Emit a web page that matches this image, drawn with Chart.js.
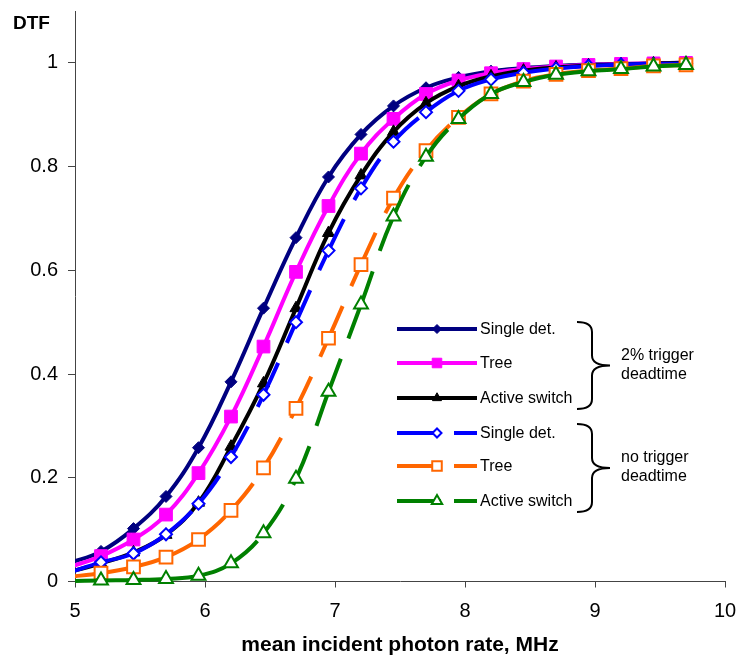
<!DOCTYPE html>
<html>
<head>
<meta charset="utf-8">
<script src="https://cdn.jsdelivr.net/npm/chart.js@4.4.0/dist/chart.umd.min.js"></script>
<style>
html, body { margin: 0; padding: 0; background: #fff; }
canvas { display: block; }
</style>
</head>
<body>
<canvas id="dtfChart" width="736" height="663"></canvas>
<script>
// photon rate (MHz); first point sits just left of the axis so the curves start at the edge
const rate = [4.95, 5.2, 5.45, 5.7, 5.95, 6.2, 6.45, 6.7, 6.95, 7.2, 7.45, 7.7, 7.95, 8.2, 8.45, 8.7, 8.95, 9.2, 9.45, 9.7];

// 2% trigger deadtime
const singleTrig = [0.035, 0.058, 0.102, 0.164, 0.258, 0.385, 0.527, 0.663, 0.780, 0.862, 0.917, 0.952, 0.972, 0.984, 0.990, 0.994, 0.997, 0.998, 0.999, 1.0];
const treeTrig   = [0.027, 0.049, 0.081, 0.129, 0.209, 0.318, 0.453, 0.597, 0.724, 0.825, 0.892, 0.940, 0.966, 0.980, 0.988, 0.993, 0.996, 0.998, 0.999, 1.0];
const switchTrig = [0.018, 0.035, 0.056, 0.090, 0.152, 0.260, 0.382, 0.527, 0.672, 0.783, 0.867, 0.922, 0.955, 0.974, 0.985, 0.991, 0.995, 0.997, 0.999, 1.0];

// no trigger deadtime
const singleNo = [0.017, 0.037, 0.054, 0.091, 0.150, 0.240, 0.360, 0.500, 0.638, 0.758, 0.848, 0.905, 0.946, 0.968, 0.981, 0.989, 0.994, 0.997, 0.998, 0.999];
const treeNo   = [0.009, 0.016, 0.028, 0.047, 0.081, 0.137, 0.219, 0.334, 0.469, 0.611, 0.739, 0.831, 0.895, 0.940, 0.965, 0.978, 0.985, 0.989, 0.994, 0.996];
const switchNo = [0.0005, 0.002, 0.003, 0.005, 0.011, 0.035, 0.093, 0.198, 0.366, 0.534, 0.704, 0.819, 0.892, 0.940, 0.963, 0.977, 0.984, 0.988, 0.993, 0.996];

const seriesLabels = ['Single det.', 'Tree', 'Active switch', 'Single det.', 'Tree', 'Active switch'];
const groupLabels = [['2% trigger', 'deadtime'], ['no trigger', 'deadtime']];
const yTicks = [0, 0.2, 0.4, 0.6, 0.8, 1];

Chart.defaults.font.family = 'Arial, "Liberation Sans", sans-serif';
Chart.defaults.color = '#000';

function makeSet(i, values, color, shape, radius, filled, dashed) {
    const set = {
        label: seriesLabels[i],
        data: values.map((v, k) => ({ x: rate[k], y: v })),
        borderColor: color,
        borderWidth: 4,
        borderDash: dashed ? [35, 22] : [],
        tension: 0.4,
        pointStyle: shape,
        pointRadius: values.map((v, k) => k === 0 ? 0 : radius),
        pointBackgroundColor: filled ? color : '#fff',
        pointBorderColor: color,
        pointBorderWidth: filled ? 1 : 2,
        order: 6 - i,
        clip: { left: 0, top: false, right: false, bottom: false },
        dashed: dashed
    };
    if (dashed) {
        // restart the dash pattern at every data point, as the original does
        set.segment = { borderDashOffset: c => (c.p0DataIndex % 2 ? 0.001 : 0) };
    }
    return set;
}

const datasets = [
    makeSet(0, singleTrig, '#000080', 'rectRot', 6, true, false),
    makeSet(1, treeTrig, '#ff00ff', 'rect', 9, true, false),
    makeSet(2, switchTrig, '#000000', 'triangle', 7, true, false),
    makeSet(3, singleNo, '#0000ff', 'rectRot', 6, false, true),
    makeSet(4, treeNo, '#ff6600', 'rect', 9, false, true),
    makeSet(5, switchNo, '#008000', 'triangle', 8, false, true)
];

// legend rows, brackets and the DTF label
const extrasPlugin = {
    id: 'extras',
    afterDraw(chart) {
        const ctx = chart.ctx;
        ctx.save();
        ctx.fillStyle = '#000';
        ctx.font = 'bold 19px Arial, "Liberation Sans", sans-serif';
        ctx.textAlign = 'left';
        ctx.textBaseline = 'alphabetic';
        ctx.fillText('DTF', 13, 29);

        const rowY = [329, 363, 398, 433, 466, 501];
        const x0 = 397, x1 = 477, xm = 437;
        datasets.forEach((ds, i) => {
            const y = rowY[i];
            ctx.save();
            ctx.strokeStyle = ds.borderColor;
            ctx.lineWidth = 4;
            ctx.setLineDash(ds.dashed ? [44, 13] : []);
            ctx.beginPath();
            ctx.moveTo(x0, y);
            ctx.lineTo(x1, y);
            ctx.stroke();
            ctx.restore();
            ctx.save();
            ctx.fillStyle = ds.pointBackgroundColor;
            ctx.strokeStyle = ds.pointBorderColor;
            ctx.lineWidth = ds.pointBorderWidth;
            Chart.helpers.drawPoint(ctx, {
                pointStyle: ds.pointStyle,
                radius: ds.pointRadius[1] * 0.75,
                borderWidth: ds.pointBorderWidth,
                rotation: 0
            }, xm, y);
            ctx.restore();
            ctx.fillStyle = '#000';
            ctx.font = '16px Arial, "Liberation Sans", sans-serif';
            ctx.textBaseline = 'middle';
            ctx.fillText(ds.label, 480, y + 1);
        });

        const braces = [[322, 409], [424, 512]];
        braces.forEach((b, j) => {
            const top = b[0], bot = b[1], mid = (top + bot) / 2;
            const xa = 577, xb = 592, xt = 610, r = 10;
            ctx.strokeStyle = '#000';
            ctx.lineWidth = 2;
            ctx.beginPath();
            ctx.moveTo(xa, top);
            ctx.quadraticCurveTo(xb, top, xb, top + r);
            ctx.lineTo(xb, mid - r);
            ctx.quadraticCurveTo(xb, mid, xt, mid);
            ctx.quadraticCurveTo(xb, mid, xb, mid + r);
            ctx.lineTo(xb, bot - r);
            ctx.quadraticCurveTo(xb, bot, xa, bot);
            ctx.stroke();
            ctx.fillStyle = '#000';
            ctx.font = '16px Arial, "Liberation Sans", sans-serif';
            ctx.textBaseline = 'middle';
            ctx.fillText(groupLabels[j][0], 621, mid - 10);
            ctx.fillText(groupLabels[j][1], 621, mid + 9);
        });
        ctx.restore();
    }
};

const axisColor = '#444';

new Chart(document.getElementById('dtfChart').getContext('2d'), {
    type: 'line',
    data: { datasets: datasets },
    options: {
        responsive: false,
        animation: false,
        events: [],
        layout: { padding: { top: 8, right: 11, left: 0, bottom: 0 } },
        plugins: { legend: { display: false }, tooltip: { enabled: false } },
        scales: {
            x: {
                type: 'linear',
                min: 5,
                max: 10,
                ticks: { stepSize: 1, font: { size: 20 }, color: '#000', padding: 12, maxRotation: 0 },
                grid: { drawOnChartArea: false, drawTicks: true, tickLength: 6, color: axisColor },
                border: { color: axisColor, width: 1 },
                title: {
                    display: true,
                    text: 'mean incident photon rate, MHz',
                    font: { size: 21, weight: 'bold' },
                    color: '#000',
                    padding: { top: 0, bottom: 5 }
                },
                afterFit: s => {
                    s.height = 81.5;
                    s.paddingLeft = 0;
                    s.paddingRight = 0;
                }
            },
            y: {
                min: 0,
                max: 1.1,
                afterBuildTicks: s => { s.ticks = yTicks.map(v => ({ value: v })); },
                ticks: {
                    font: { size: 20 },
                    color: '#000',
                    padding: 10,
                    callback: v => String(+v.toFixed(1))
                },
                grid: { drawOnChartArea: false, drawTicks: true, tickLength: 7, color: axisColor },
                border: { color: axisColor, width: 1 },
                afterFit: s => {
                    s.width = 75;
                    s.paddingTop = 0;
                    s.paddingBottom = 0;
                }
            }
        }
    },
    plugins: [extrasPlugin]
});
</script>
</body>
</html>
